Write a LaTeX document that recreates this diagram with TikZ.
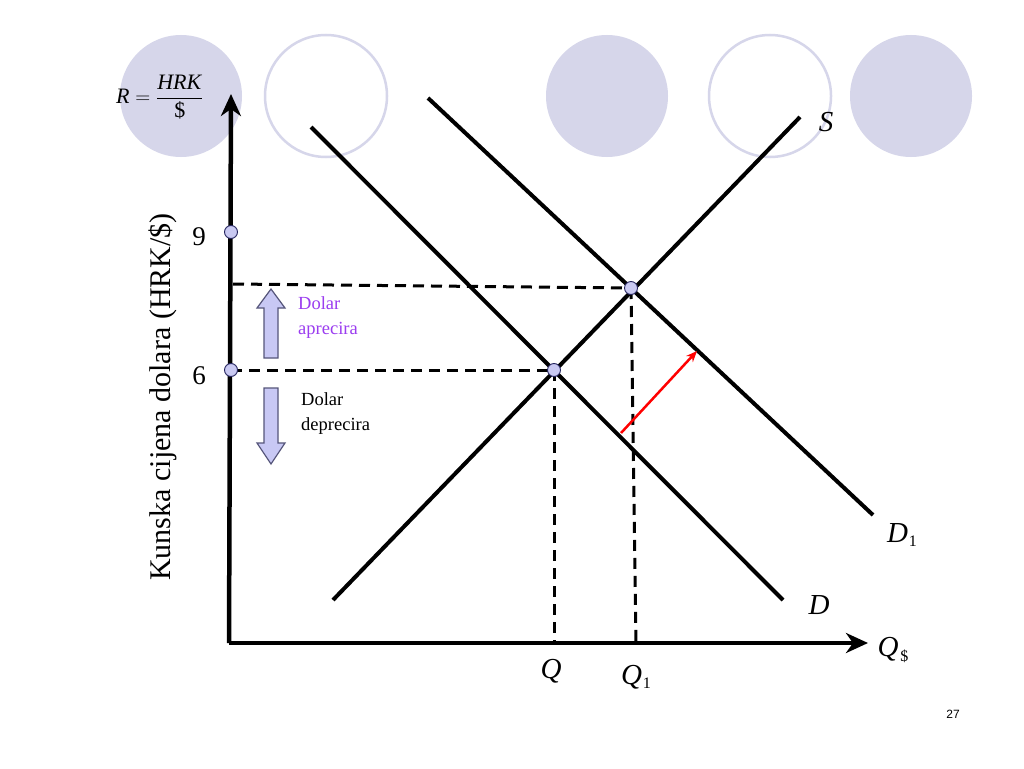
\documentclass[tikz,border=0pt]{standalone}
\usepackage{fontspec}
\setmainfont{Liberation Serif}
\newfontfamily\arialf{Liberation Sans}
\usetikzlibrary{arrows.meta}
\definecolor{lav}{HTML}{D6D6EA}
\definecolor{dotfill}{HTML}{C9C9F2}
\definecolor{dotdraw}{HTML}{25255F}
\definecolor{blockfill}{HTML}{C8C8F4}
\definecolor{blockdraw}{HTML}{55557A}
\definecolor{purp}{HTML}{9B3DF0}
\tikzset{
  deco/.style={circle, minimum size=122pt, inner sep=0pt},
  decofill/.style={deco, fill=lav},
  decoring/.style={deco, draw=lav, line width=2.5pt, fill=white},
  axis/.style={line width=4.5pt, -{Stealth[length=22pt,width=20pt,inset=7pt]}},
  curve/.style={line width=4pt},
  guide/.style={line width=3pt, dash pattern=on 11pt off 7pt},
  dotnode/.style={circle, minimum size=13pt, inner sep=0pt, fill=dotfill, draw=dotdraw, line width=0.9pt},
  block/.style={fill=blockfill, draw=blockdraw, line width=1.2pt},
  lbl/.style={inner sep=0pt, font=\fontsize{29}{34}\selectfont\itshape},
  small/.style={inner sep=0pt, font=\fontsize{18.5}{25}\selectfont, align=left},
}
\begin{document}
\begin{tikzpicture}[x=1pt,y=-1pt]
\useasboundingbox[fill=white] (0,0) rectangle (1024,768);
% decorative circles
\node[decofill] (c1) at (181,96) {};
\node[decoring] (c2) at (326,96) {};
\node[decofill] (c3) at (607,96) {};
\node[decoring] (c4) at (770,96) {};
\node[decofill] (c5) at (911,96) {};
% axes
\coordinate (O) at (231,643);
\coordinate (ytop) at (231,94);
\coordinate (xend) at (868,643);
\draw[axis] (229,643) -- (ytop);
\draw[axis] (229,643) -- (xend);
% coordinates of points
\coordinate (pE0) at (554,370);
\coordinate (pE1) at (631,288);
% guides
\coordinate (y1) at (233,284);
\coordinate (q0) at (554,643);
\coordinate (q1) at (636,643);
\draw[guide] (y1) -- (pE1);
\draw[guide] (231,370) -- (pE0);
\draw[guide] (pE0) -- (q0);
\draw[guide] (pE1) -- (q1);
% curves
\coordinate (s0) at (333,600); \coordinate (s1) at (800,117);
\coordinate (d0) at (311,127); \coordinate (d1) at (783,600);
\coordinate (e0) at (428,98);  \coordinate (e1) at (873,515);
\draw[curve] (s0) -- (s1);
\draw[curve] (d0) -- (d1);
\draw[curve] (e0) -- (e1);
% equilibrium points
\node[dotnode] (E0) at (pE0) {};
\node[dotnode] (E1) at (pE1) {};
\node[dotnode] (p9) at (231,232) {};
\node[dotnode] (p6) at (231,370) {};
% red shift arrow
\coordinate (r0) at (621,433);
\coordinate (r1) at (697,351);
\draw[red, line width=2.5pt, -{Stealth[length=11pt,width=9pt]}] (r0) -- (r1);
% block arrows
\draw[block] (264,358) -- (264,308) -- (257,308) -- (271,289) -- (285,308) -- (278,308) -- (278,358) -- cycle;
\draw[block] (264,388) -- (264,443) -- (257,443) -- (271,464) -- (285,443) -- (278,443) -- (278,388) -- cycle;
% labels
\node[small, text=purp, anchor=north west] (apr) at (298,296) {Dolar\\aprecira};
\node[small, anchor=north west] (dep) at (301,392) {Dolar\\deprecira};
\node[inner sep=0pt, font=\fontsize{27}{30}\selectfont] (l9) at (199,237) {9};
\node[inner sep=0pt, font=\fontsize{27}{30}\selectfont] (l6) at (199,376) {6};
\node[inner sep=0pt, rotate=90, font=\fontsize{30}{34}\selectfont] (ylab) at (163,397) {Kunska cijena dolara (HRK/\$)};
\node[lbl] (lS) at (826,122) {S};
\node[lbl] (lD) at (819,605) {D};
\node[lbl] (lD1) at (902,535) {D\kern1pt{\upshape\fontsize{16}{18}\selectfont\raisebox{-4pt}{1}}};
\node[lbl] (lQ) at (551,671) {Q};
\node[lbl] (lQ1) at (636,677) {Q\kern1pt{\upshape\fontsize{16}{18}\selectfont\raisebox{-4pt}{1}}};
\node[lbl] (lQd) at (893,650) {Q\kern2pt{\upshape\fontsize{16}{18}\selectfont\raisebox{-5pt}{\$}}};
\node[inner sep=0pt, font=\fontsize{22}{26}\selectfont, anchor=west] (lR) at (116,97) {$\displaystyle\mbox{\itshape R}=\frac{\mbox{\itshape HRK\kern1pt}}{\mbox{\$}}$};
\node[inner sep=0pt, font=\arialf\fontsize{12}{14}\selectfont] (pg) at (953,714) {27};
\end{tikzpicture}
\end{document}
